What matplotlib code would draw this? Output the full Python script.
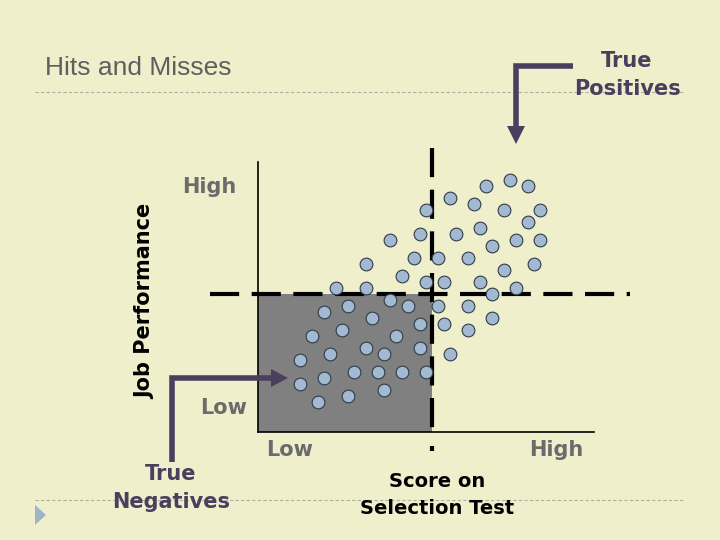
import numpy as np
import matplotlib.pyplot as plt
from matplotlib.patches import Rectangle, Polygon

# scores on selection test (x) and job performance (y), 0-10 scale
score = [6.79, 7.50, 8.04, 5.70, 6.43, 7.32, 8.39, 5.00, 8.04, 6.61,
         4.82, 5.89, 3.93, 6.96, 7.68, 8.39, 3.21, 4.64, 5.36, 6.25,
         7.32, 8.21, 4.29, 5.00, 5.54, 6.61, 2.32, 3.21, 7.68, 6.96,
         3.93, 2.68, 4.46, 5.36, 6.25, 1.96, 3.39, 6.96, 4.82, 5.54,
         2.50, 6.25, 1.61, 4.11, 3.21, 4.82, 2.14, 3.75, 5.71, 1.25,
         2.86, 3.57, 4.29, 5.00, 1.96, 1.25, 3.75, 2.68, 1.79]
performance = [9.12, 9.33, 9.12, 8.68, 8.46, 8.22, 8.22, 8.22, 7.79, 7.57,
               7.35, 7.35, 7.11, 6.90, 7.12, 7.12, 6.23, 6.46, 6.46, 6.46,
               6.01, 6.23, 5.79, 5.57, 5.57, 5.57, 5.35, 5.35, 5.35, 5.12,
               4.90, 4.68, 4.68, 4.68, 4.68, 4.46, 4.23, 4.23, 4.01, 4.01,
               3.79, 3.79, 3.57, 3.57, 3.12, 3.12, 2.90, 2.90, 2.90, 2.68,
               2.23, 2.23, 2.23, 2.23, 2.01, 1.79, 1.57, 1.35, 1.12]
score_cutoff = 5.18
perf_cutoff = 5.11

bg = '#EFEFCC'
purple = '#4B3F5E'
gray_txt = '#6B6B6B'

fig = plt.figure(figsize=(7.2, 5.4), dpi=100, facecolor=bg)

# main chart area
ax = fig.add_axes([258/720, 108/540, 336/720, 270/540])
ax.set_facecolor('none')
ax.set_xlim(0, 10)
ax.set_ylim(0, 10)
for s in ['top', 'right']:
    ax.spines[s].set_visible(False)
ax.spines['left'].set_linewidth(1.2)
ax.spines['bottom'].set_linewidth(1.2)
ax.set_xticks([])
ax.set_yticks([])

# true negatives region
ax.add_patch(Rectangle((0, 0), score_cutoff, perf_cutoff, facecolor='#808080',
                       edgecolor='none', zorder=1))

# cutoff lines
ax.plot([-1.43, 11.07], [perf_cutoff, perf_cutoff], color='black', lw=3,
        dashes=(7, 3), clip_on=False, zorder=2)
ax.plot([score_cutoff, score_cutoff], [10.52, -0.1], color='black', lw=3,
        dashes=(7, 3), clip_on=False, zorder=2)
ax.plot([score_cutoff, score_cutoff], [-0.5, -0.72], color='black', lw=3,
        clip_on=False, zorder=2, solid_capstyle='butt')

ax.scatter(score, performance, s=84, facecolor='#A2B9D1', edgecolor='#2E3B48',
           linewidth=0.8, zorder=3, clip_on=False)

# decoration layer in pixel coordinates
deco = fig.add_axes([0, 0, 1, 1], zorder=5)
deco.set_xlim(0, 720)
deco.set_ylim(540, 0)
deco.axis('off')
deco.patch.set_alpha(0)

deco.text(45, 68, 'Hits and Misses', fontsize=19, color='#5F5F5F',
          family='Liberation Sans', va='center', ha='left')
deco.plot([35, 683], [92, 92], color='#B0B0A0', lw=0.8, ls=(0, (3, 2)))
deco.plot([35, 685], [500, 500], color='#B0B0A0', lw=0.8, ls=(0, (3, 2)))
deco.add_patch(Polygon([[35, 505], [46, 515], [35, 525]], closed=True,
                       facecolor='#9DB4C9', edgecolor='none'))

# true positives arrow
deco.plot([573, 516, 516], [66, 66, 128], color=purple, lw=4,
          solid_joinstyle='miter', solid_capstyle='butt')
deco.add_patch(Polygon([[507, 126], [525, 126], [516, 144]], closed=True,
                       facecolor=purple, edgecolor='none'))
deco.text(627, 75, 'True\nPositives', fontsize=15, fontweight='bold',
          color=purple, ha='center', va='center', linespacing=1.45)

# true negatives arrow
deco.plot([172, 172, 272], [462, 378, 378], color=purple, lw=4,
          solid_joinstyle='miter', solid_capstyle='butt')
deco.add_patch(Polygon([[271, 369], [271, 387], [288, 378]], closed=True,
                       facecolor=purple, edgecolor='none'))
deco.text(171, 488, 'True\nNegatives', fontsize=15, fontweight='bold',
          color=purple, ha='center', va='center', linespacing=1.45)

deco.text(145, 301, 'Job Performance', fontsize=15, fontweight='bold',
          color='black', rotation=90, ha='center', va='center')
deco.text(209, 187, 'High', fontsize=15, fontweight='bold', color=gray_txt,
          ha='center', va='center')
deco.text(224, 408, 'Low', fontsize=15, fontweight='bold', color=gray_txt,
          ha='center', va='center')
deco.text(290, 450, 'Low', fontsize=15, fontweight='bold', color=gray_txt,
          ha='center', va='center')
deco.text(556, 450, 'High', fontsize=15, fontweight='bold', color=gray_txt,
          ha='center', va='center')
deco.text(437, 495, 'Score on\nSelection Test', fontsize=14, fontweight='bold',
          color='black', ha='center', va='center', linespacing=1.5)

fig.savefig('out.png', dpi=100, facecolor=bg)
